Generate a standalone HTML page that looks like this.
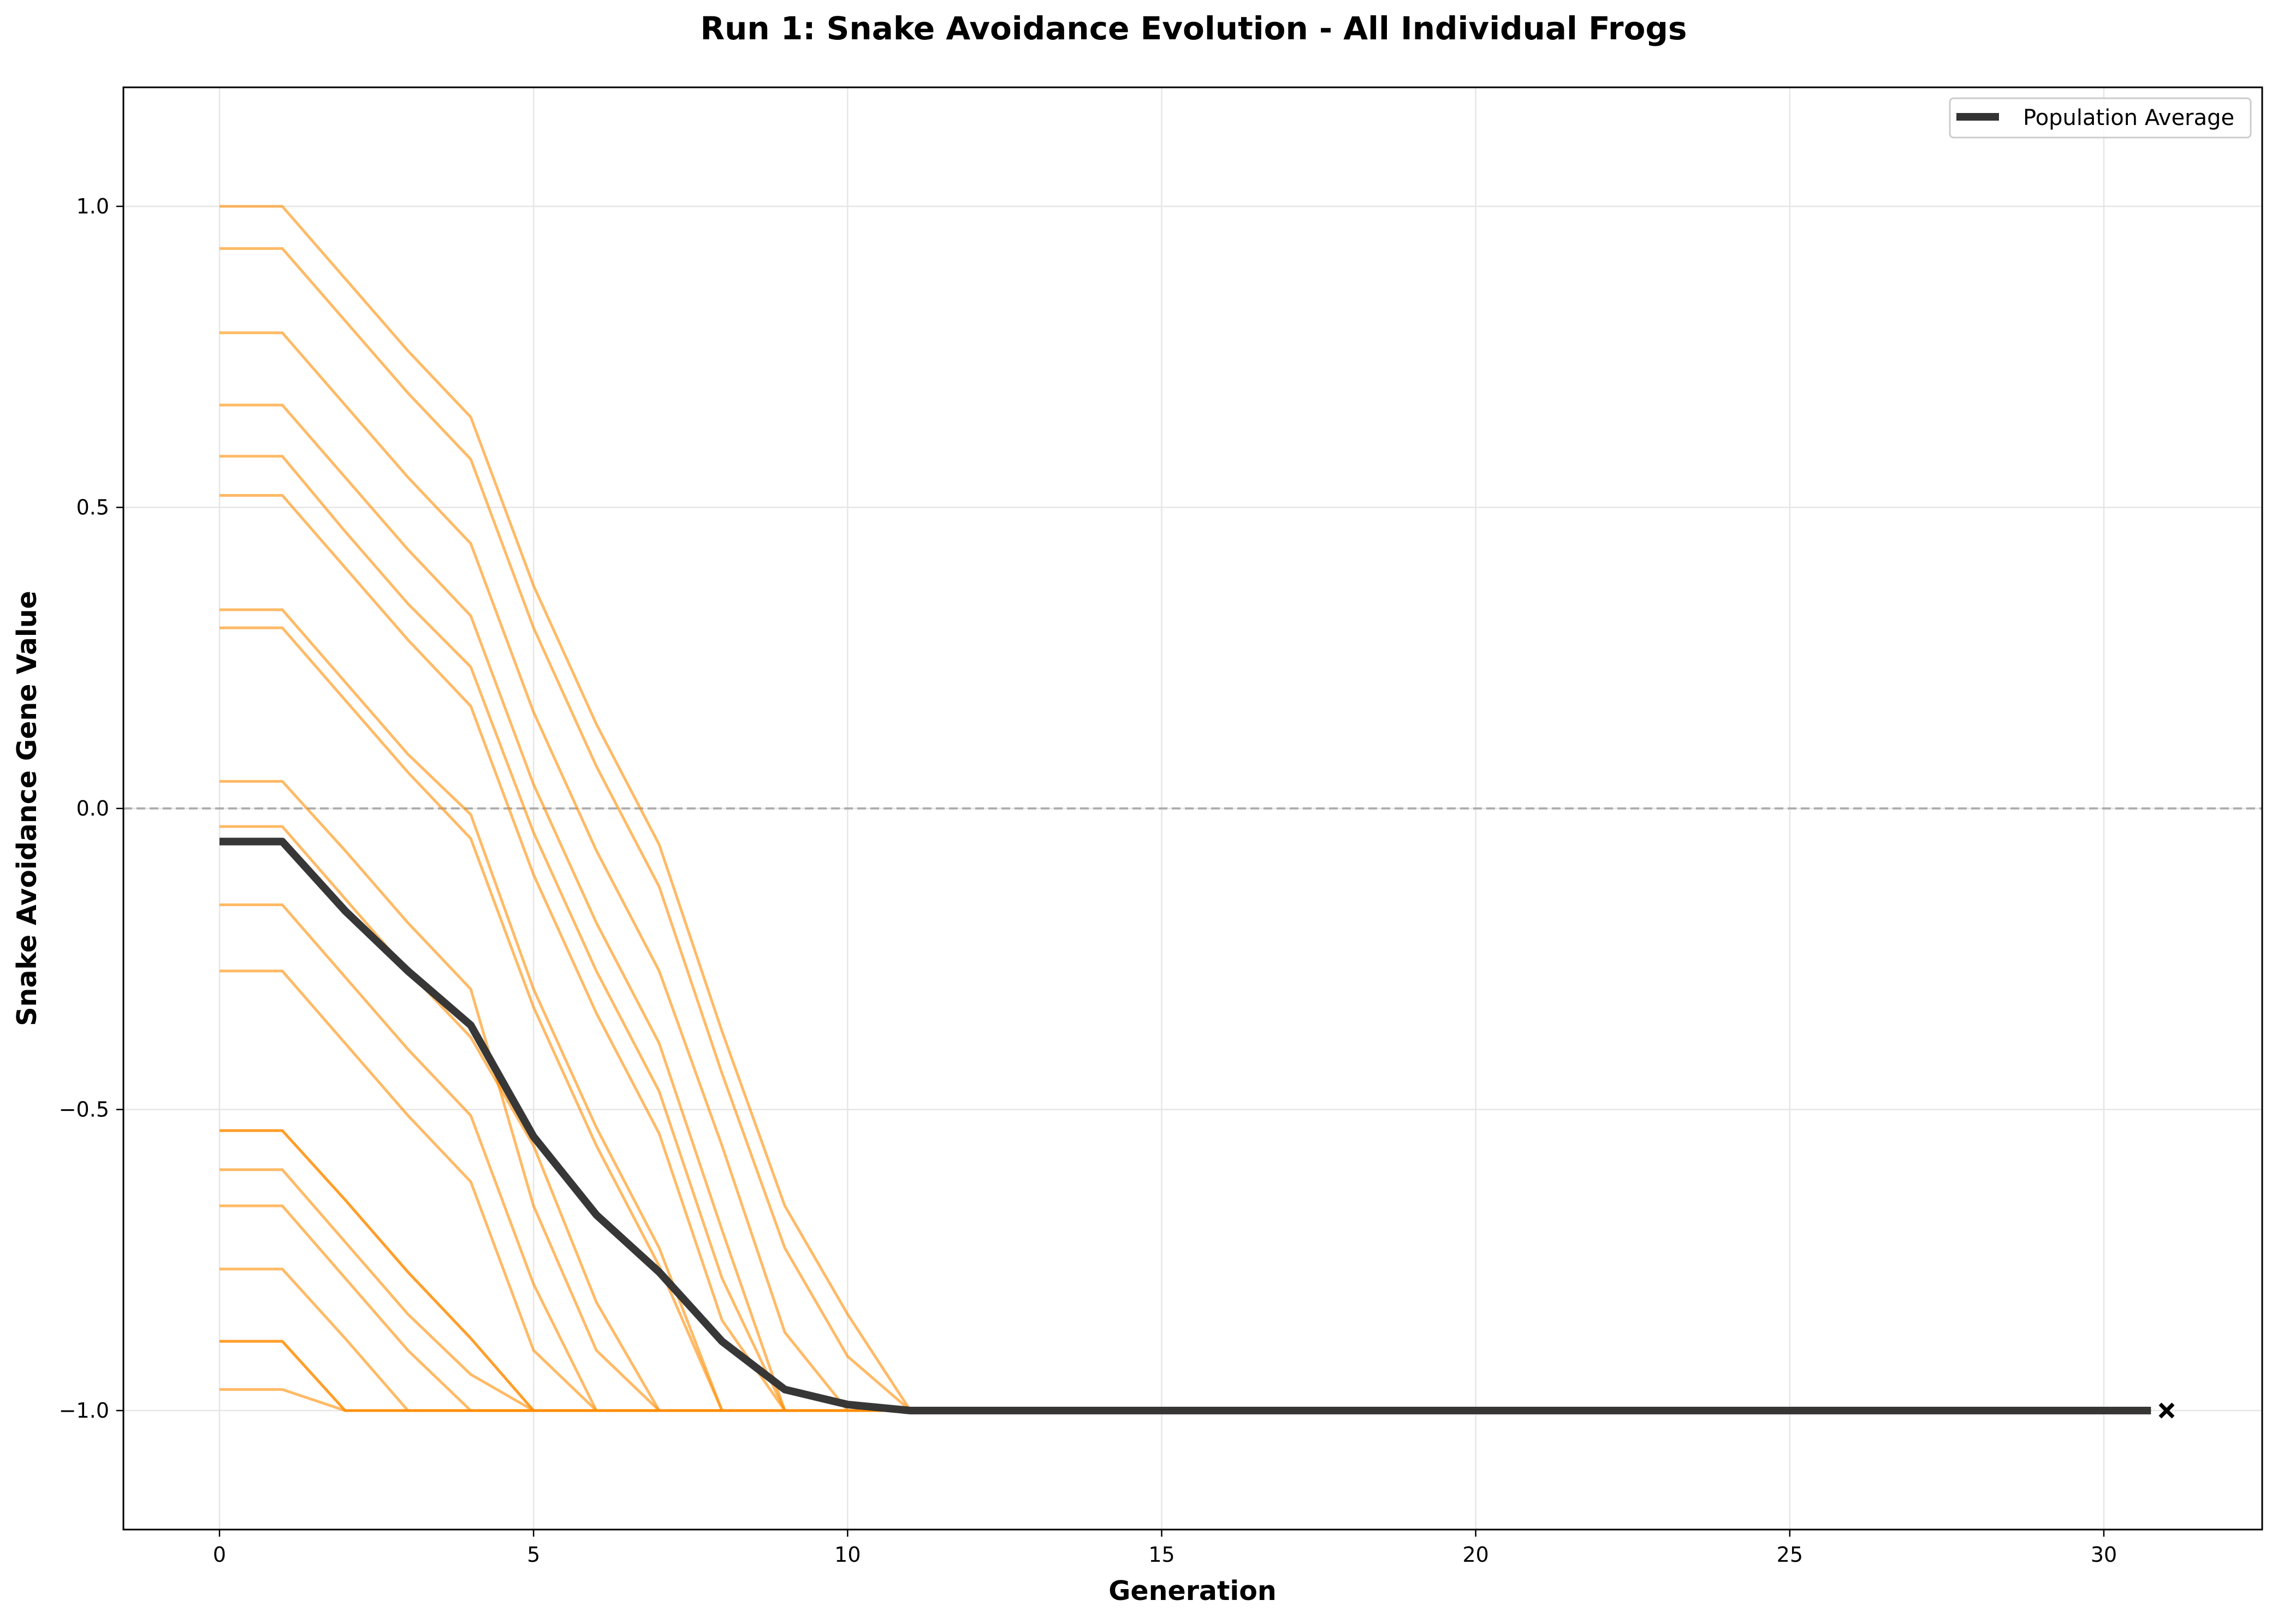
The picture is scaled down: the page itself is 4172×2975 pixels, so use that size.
<!DOCTYPE html>
<html><head><meta charset="utf-8"><style>
body{margin:0;background:#fff}
svg text{font-family:"DejaVu Sans","Liberation Sans",sans-serif}
</style></head><body>
<svg id="chart" width="4172" height="2970" viewBox="0 0 4172 2970" xmlns="http://www.w3.org/2000/svg">
<rect width="4172" height="2970" fill="#fff"/>
<text x="2186" y="72" font-size="58" font-weight="bold" text-anchor="middle">Run 1: Snake Avoidance Evolution - All Individual Frogs</text>
<g id="grid"></g>
<g id="lines"></g>
<rect x="226" y="160" width="3917" height="2642" fill="none" stroke="#000" stroke-width="3"/>
<g id="ticks"></g>
<text x="2184" y="2931" font-size="49" font-weight="bold" text-anchor="middle">Generation</text>
<text transform="translate(66,1481) rotate(-90)" font-size="49" font-weight="bold" text-anchor="middle">Snake Avoidance Gene Value</text>
<g>
<rect x="3571" y="180" width="551" height="72" rx="7" fill="#fff" fill-opacity="0.8" stroke="#ccc" stroke-width="3"/>
<line x1="3583" y1="214" x2="3661" y2="214" stroke="#333" stroke-width="14"/>
<text x="3705" y="229" font-size="40">Population Average</text>
</g>
</svg>
<script>
const individuals = [
[1.0,1.0,0.88,0.76,0.65,0.37,0.14,-0.06,-0.37,-0.66,-0.84,-1],
[0.93,0.93,0.81,0.69,0.58,0.30,0.07,-0.13,-0.44,-0.73,-0.91,-1],
[0.79,0.79,0.67,0.55,0.44,0.16,-0.07,-0.27,-0.56,-0.87,-1,-1],
[0.67,0.67,0.55,0.43,0.32,0.04,-0.19,-0.39,-0.70,-1,-1,-1],
[0.585,0.585,0.46,0.34,0.235,-0.04,-0.27,-0.47,-0.78,-1,-1,-1],
[0.52,0.52,0.40,0.28,0.17,-0.11,-0.34,-0.54,-0.85,-1,-1,-1],
[0.33,0.33,0.21,0.09,-0.01,-0.30,-0.53,-0.73,-1,-1,-1,-1],
[0.30,0.30,0.18,0.06,-0.05,-0.33,-0.56,-0.76,-1,-1,-1,-1],
[0.045,0.045,-0.07,-0.19,-0.30,-0.66,-0.90,-1,-1,-1,-1,-1],
[-0.03,-0.03,-0.15,-0.27,-0.38,-0.56,-0.82,-1,-1,-1,-1,-1],
[-0.16,-0.16,-0.28,-0.40,-0.51,-0.79,-1,-1,-1,-1,-1,-1],
[-0.27,-0.27,-0.39,-0.51,-0.62,-0.90,-1,-1,-1,-1,-1,-1],
[-0.535,-0.535,-0.65,-0.77,-0.88,-1,-1,-1,-1,-1,-1,-1],
[-0.535,-0.535,-0.65,-0.77,-0.88,-1,-1,-1,-1,-1,-1,-1],
[-0.60,-0.60,-0.72,-0.84,-0.94,-1,-1,-1,-1,-1,-1,-1],
[-0.66,-0.66,-0.78,-0.90,-1,-1,-1,-1,-1,-1,-1,-1],
[-0.765,-0.765,-0.88,-1,-1,-1,-1,-1,-1,-1,-1,-1],
[-0.885,-0.885,-1,-1,-1,-1,-1,-1,-1,-1,-1,-1],
[-0.885,-0.885,-1,-1,-1,-1,-1,-1,-1,-1,-1,-1],
[-0.965,-0.965,-1,-1,-1,-1,-1,-1,-1,-1,-1,-1]
];
const average = [-0.055,-0.055,-0.17,-0.27,-0.36,-0.545,-0.675,-0.77,-0.885,-0.965,-0.99,-1];
const lastGeneration = 30.75;
const markerGeneration = 31;
const xTicks = [0,5,10,15,20,25,30];
const yTicks = [-1.0,-0.5,0.0,0.5,1.0];
const yTickLabels = ["\u22121.0","\u22120.5","0.0","0.5","1.0"];

const X = g => 402 + (g/30)*(3853-402);
const Y = v => 1481 - v*(2584-378)/2;
const NS = "http://www.w3.org/2000/svg";
function mk(tag, attrs, parent){const e=document.createElementNS(NS,tag);for(const k in attrs)e.setAttribute(k,attrs[k]);parent.appendChild(e);return e;}
const grid=document.getElementById('grid'), lines=document.getElementById('lines'), ticks=document.getElementById('ticks');

xTicks.forEach(t=>{
  const l=mk('line',{x1:X(t),x2:X(t),y1:160,y2:2802,stroke:'#e6e6e6','stroke-width':2.5},grid);
  
  
  const tk=mk('line',{x1:X(t),x2:X(t),y1:2802,y2:2815,stroke:'#000','stroke-width':2.5},ticks);
  
  
  const tx=mk('text',{x:X(t),y:2861,'font-size':38,'text-anchor':'middle'},ticks);
  tx.textContent=t;
  
  
});
yTicks.forEach((t,i)=>{
  const l=mk('line',{x1:226,x2:4143,y1:Y(t),y2:Y(t),stroke:'#e6e6e6','stroke-width':2.5},grid);
  
  
  const tk=mk('line',{x1:213,x2:226,y1:Y(t),y2:Y(t),stroke:'#000','stroke-width':2.5},ticks);
  
  
  const tx=mk('text',{x:200,y:Y(t)+13,'font-size':38,'text-anchor':'end'},ticks);
  tx.textContent=yTickLabels[i];
  
  
});
const zl=mk('line',{x1:226,x2:4143,y1:Y(0),y2:Y(0),stroke:'#999','stroke-opacity':0.75,'stroke-width':4,'stroke-dasharray':'16,8'},grid);



function pts(arr){const p=arr.map((v,i)=>X(i)+','+Y(v));p.push(X(lastGeneration)+','+Y(arr[arr.length-1]));return p.join(' ');}
individuals.forEach(arr=>{
  const pl=mk('polyline',{points:pts(arr),fill:'none',stroke:'#ff8c00','stroke-opacity':0.6,'stroke-width':5},lines);
  
  
});
const av=mk('polyline',{points:pts(average),fill:'none',stroke:'#333','stroke-opacity':0.98,'stroke-width':14,'stroke-linejoin':'round'},lines);


const mx=X(markerGeneration), my=Y(average[average.length-1]);
const m=mk('path',{d:`M${mx-12},${my-12}L${mx+12},${my+12}M${mx-12},${my+12}L${mx+12},${my-12}`,stroke:'#000','stroke-width':7},lines);


</script>
</body></html>
